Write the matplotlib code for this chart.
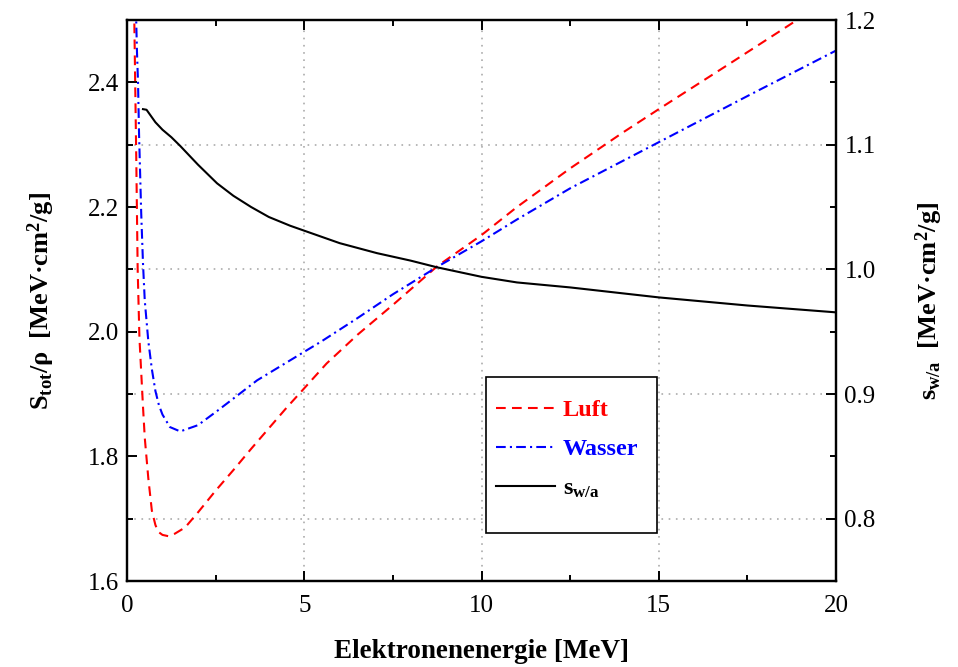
import matplotlib
matplotlib.use("Agg")
import matplotlib.pyplot as plt
from matplotlib.patches import Rectangle
from matplotlib.ticker import MultipleLocator, FormatStrFormatter

# ---- data ----
E_luft = [0.20, 0.23, 0.26, 0.30, 0.35, 0.40, 0.45, 0.50, 0.60, 0.70, 0.80, 0.88, 1.00, 1.16,
          1.35, 1.64, 2.00, 2.50, 3.00, 3.50, 4.00, 4.50, 4.90, 5.63, 6.50, 7.50, 8.75, 10.0,
          11.0, 12.5, 14.0, 15.0, 17.0, 18.9]
S_luft = [2.52, 2.40, 2.28, 2.10, 1.99, 1.935, 1.88, 1.83, 1.765, 1.713, 1.69, 1.679, 1.674, 1.672,
          1.676, 1.686, 1.71, 1.745, 1.778, 1.812, 1.845, 1.878, 1.903, 1.949, 1.995, 2.043, 2.105, 2.155,
          2.20, 2.262, 2.32, 2.357, 2.43, 2.50]

E_wasser = [0.25, 0.28, 0.31, 0.34, 0.40, 0.45, 0.50, 0.60, 0.70, 0.80, 0.90, 1.00, 1.21, 1.50,
            2.00, 2.57, 3.19, 3.67, 4.60, 5.50, 6.48, 7.50, 8.75, 10.0, 11.0, 12.5, 15.0, 17.5, 20.0]
S_wasser = [2.52, 2.45, 2.40, 2.315, 2.19, 2.11, 2.05, 1.985, 1.94, 1.905, 1.882, 1.867, 1.847, 1.840,
            1.85, 1.874, 1.901, 1.922, 1.954, 1.985, 2.021, 2.06, 2.104, 2.145, 2.18, 2.230, 2.304, 2.378, 2.451]

E_swa = [0.45, 0.55, 0.65, 0.80, 1.00, 1.25, 1.50, 2.00, 2.54, 3.00, 3.50, 4.00, 4.60, 5.00, 6.00, 7.05,
         8.00, 8.75, 10.0, 11.0, 12.5, 15.0, 17.5, 20.0]
s_wa = [1.1285, 1.128, 1.124, 1.118, 1.112, 1.106, 1.099, 1.084, 1.069, 1.059, 1.050, 1.042, 1.035, 1.031,
        1.021, 1.013, 1.007, 1.0016, 0.994, 0.9895, 0.9855, 0.9775, 0.971, 0.9655]

labels = ["Luft", "Wasser", r"$\mathbf{s_{w/a}}$"]
colors = ["red", "blue", "black"]

# ---- style ----
plt.rcParams["font.family"] = ["Liberation Serif", "DejaVu Serif"]
plt.rcParams["mathtext.fontset"] = "custom"
plt.rcParams["mathtext.rm"] = "Liberation Serif"
plt.rcParams["mathtext.it"] = "Liberation Serif:italic"
plt.rcParams["mathtext.bf"] = "Liberation Serif:bold"
plt.rcParams["lines.scale_dashes"] = False

fig = plt.figure(figsize=(9.58, 6.67), dpi=100)
ax1 = fig.add_axes([0.1326, 0.1289, 0.7401, 0.8411])
ax2 = ax1.twinx()

dash_red = (0, (7, 4.5))
dash_blue = (0, (7, 3, 1.5, 3))

l1, = ax1.plot(E_luft, S_luft, color=colors[0], lw=1.5, linestyle=dash_red)
l2, = ax1.plot(E_wasser, S_wasser, color=colors[1], lw=1.5, linestyle=dash_blue)
l3, = ax2.plot(E_swa, s_wa, color=colors[2], lw=1.5)

ax1.set_xlim(0, 20)
ax1.set_ylim(1.6, 2.5)
ax2.set_ylim(0.75, 1.2)

ax1.xaxis.set_major_locator(MultipleLocator(5))
ax1.xaxis.set_minor_locator(MultipleLocator(2.5))
ax1.yaxis.set_major_locator(MultipleLocator(0.2))
ax1.yaxis.set_minor_locator(MultipleLocator(0.1))
ax2.yaxis.set_major_locator(MultipleLocator(0.1))
ax2.yaxis.set_minor_locator(MultipleLocator(0.05))
ax1.yaxis.set_major_formatter(FormatStrFormatter("%.1f"))
ax2.yaxis.set_major_formatter(FormatStrFormatter("%.1f"))

gridkw = dict(color="#b8b8b8", linestyle=(0, (1.2, 4)), linewidth=1.4)
ax1.grid(True, which="major", axis="x", **gridkw)
ax1.grid(True, which="minor", axis="y", **gridkw)
ax1.set_axisbelow(True)

ax1.tick_params(axis="both", which="both", direction="in", width=1.4, labelsize=18)
ax1.tick_params(axis="x", which="both", top=True)
ax1.tick_params(axis="y", which="both", right=False)
ax1.tick_params(which="major", length=7)
ax1.tick_params(which="minor", length=4.5)
ax2.tick_params(axis="y", which="both", direction="in", width=1.4, labelsize=18)
ax2.tick_params(which="major", length=7)
ax2.tick_params(which="minor", length=4.5)
ax1.tick_params(axis="x", pad=10)
ax1.tick_params(axis="y", pad=6)
ax2.tick_params(axis="y", pad=6)

for ax in (ax1, ax2):
    for s in ax.spines.values():
        s.set_linewidth(1.6)

ax1.set_xlabel("Elektronenenergie [MeV]", fontsize=19.5, fontweight="bold", labelpad=16)
ax1.set_ylabel(r"$\mathbf{S_{tot}/\rho}$  [MeV·cm$\mathbf{^2}$/g]", fontsize=19,
               fontweight="bold", labelpad=22)
ax2.set_ylabel(r"$\mathbf{s_{w/a}}$  [MeV·cm$\mathbf{^2}$/g]", fontsize=19,
               fontweight="bold", labelpad=27, rotation=90)

# legend box (frame drawn as a separate rectangle in axes coordinates)
box = Rectangle((0.5063, 0.0856), 0.2412, 0.2780, transform=ax1.transAxes,
                facecolor="white", edgecolor="black", linewidth=1.2, zorder=9)
ax1.add_patch(box)
leg = ax1.legend([l1, l2, l3], labels, loc="upper left",
                 bbox_to_anchor=(0.5063, 0.341), frameon=False,
                 prop=dict(weight="bold", size=17.5), handlelength=2.45,
                 handletextpad=0.3, labelspacing=0.7, borderpad=0.4, borderaxespad=0)
for t, c in zip(leg.get_texts(), colors):
    t.set_color(c)
leg.set_zorder(10)

fig.savefig("out.png", dpi=100)
